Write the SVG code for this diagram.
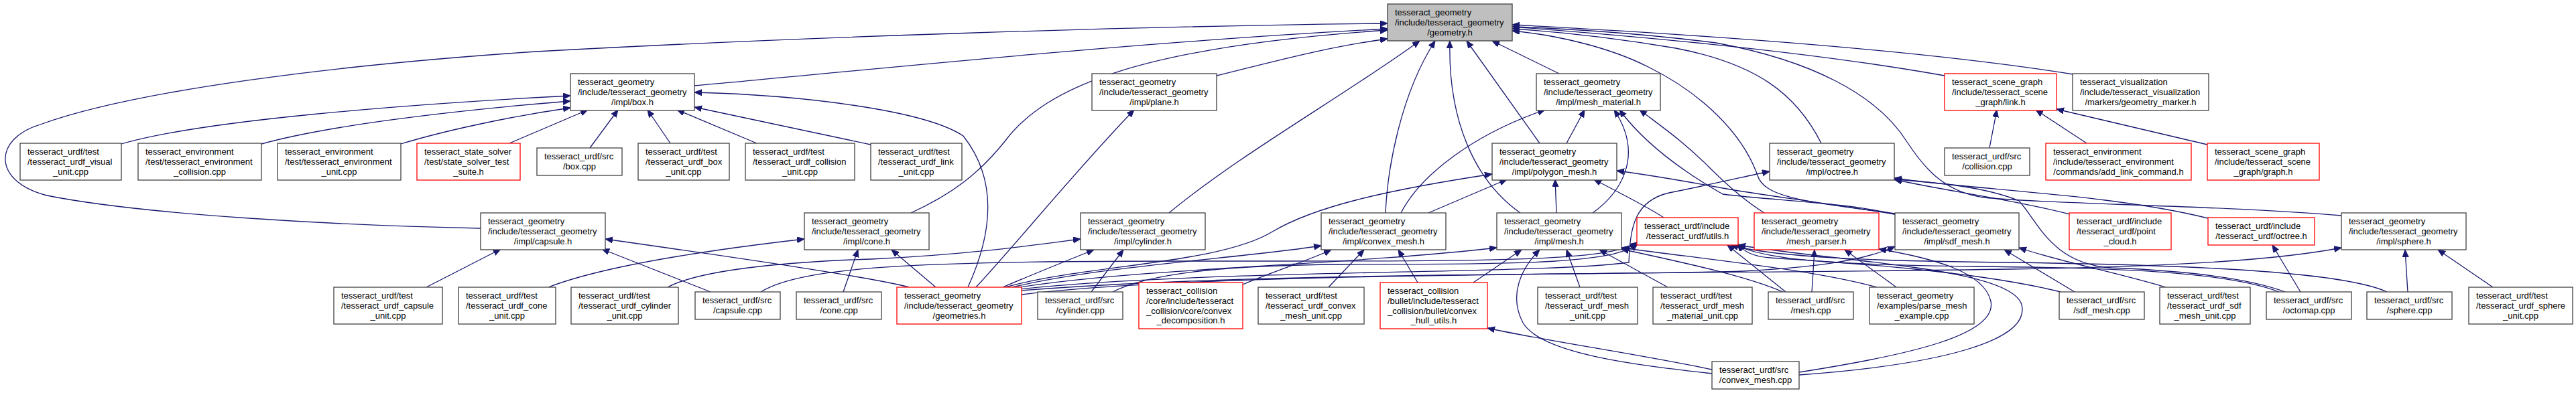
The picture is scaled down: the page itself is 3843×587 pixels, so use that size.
<svg xmlns="http://www.w3.org/2000/svg" width="3843" height="587" viewBox="0 0 3843 587">
<style>
.nd rect{fill:#ffffff;stroke:#404040;stroke-width:1.3}
.rd rect{fill:#ffffff;stroke:#ff0000;stroke-width:1.3}
.rt rect{fill:#bfbfbf;stroke:#404040;stroke-width:1.3}
text{font-family:"Liberation Sans",Arial,Helvetica,sans-serif;font-size:13px;fill:#000000}
.m{text-anchor:middle}
#edges path{fill:none;stroke:#191970;stroke-width:1.3;marker-end:url(#ah)}
</style>
<defs>
<marker id="ah" markerUnits="userSpaceOnUse" markerWidth="12" markerHeight="10" refX="11" refY="4.5" orient="auto">
<path d="M0,0 L11,4.5 L0,9 z" fill="#191970" stroke="#191970" stroke-width="1"/>
</marker>
</defs>
<rect x="0" y="0" width="3843" height="587" fill="#ffffff"/>
<g id="edges">
<path d="M717,341 C520,337 220,322 70,292 C-10,272 -12,208 60,186 C200,135 500,97 800,77 C1200,55 1700,39 2070,35"/>
<path d="M1036,128 C1300,104 1700,62 2070,43"/>
<path d="M1359,318 C1420,290 1460,260 1500,210 C1560,130 1700,70 2070,45"/>
<path d="M1815,113 C1900,92 1980,70 2070,58"/>
<path d="M1744,318 C1850,230 2010,140 2118,61"/>
<path d="M2067,318 C2070,250 2090,140 2141,61"/>
<path d="M2268,318 C2200,270 2160,180 2163,61"/>
<path d="M2297,214 L2188,61"/>
<path d="M2326,110 L2226,61"/>
<path d="M3093,111 C2900,80 2600,55 2256,37"/>
<path d="M2901,113 C2750,86 2550,62 2256,40"/>
<path d="M2717,214 C2680,140 2620,95 2500,72 C2400,55 2320,47 2256,43"/>
<path d="M2827,319 C2700,302 2632,296 2622,262 C2600,200 2540,140 2459,100 C2400,70 2320,52 2256,46"/>
<path d="M3493,322 C3300,306 3050,305 2960,295 C2900,287 2870,250 2845,212 C2800,140 2700,90 2560,64 C2450,50 2330,42 2256,40"/>
<path d="M181,215 C300,180 600,156 851,143"/>
<path d="M390,215 C480,190 650,167 851,151"/>
<path d="M598,215 C660,196 760,174 851,161"/>
<path d="M760,214 L877,164"/>
<path d="M880,221 L922,164"/>
<path d="M1000,214 L966,164"/>
<path d="M1129,214 L1010,164"/>
<path d="M1299,216 C1200,195 1100,174 1036,160"/>
<path d="M1444,429 C1480,350 1490,270 1437,203 C1380,165 1200,142 1036,138"/>
<path d="M1456,429 C1520,360 1600,260 1692,164"/>
<path d="M2090,318 C2120,260 2200,200 2305,164"/>
<path d="M2337,214 L2364,164"/>
<path d="M2376,318 C2415,290 2455,235 2408,164"/>
<path d="M2827,320 C2750,302 2650,300 2570,290 C2500,250 2450,210 2416,164"/>
<path d="M2632,318 C2600,298 2570,270 2550,250 C2510,210 2480,190 2446,164"/>
<path d="M2968,221 L2979,164"/>
<path d="M3113,214 L3037,164"/>
<path d="M3293,216 L3068,163"/>
<path d="M2131,318 L2248,268"/>
<path d="M2322,318 L2320,268"/>
<path d="M2482,325 C2460,310 2420,290 2378,268"/>
<path d="M2827,320 C2700,300 2620,290 2570,281 C2500,268 2450,260 2412,255"/>
<path d="M1500,429 C1620,395 1820,395 1900,345 C1960,310 2060,285 2226,260"/>
<path d="M1520,432 C1800,402 2300,410 2430,392 C2432,340 2438,300 2490,288 C2560,274 2610,262 2640,256"/>
<path d="M3294,326 C3150,290 2950,284 2826,266"/>
<path d="M3088,320 C3000,297 2900,285 2826,268"/>
<path d="M3409,436 C3350,414 3250,404 3150,400 C3060,394 3040,330 3012,300 C2960,278 2880,272 2826,268"/>
<path d="M636,429 L747,372"/>
<path d="M1060,436 L898,372"/>
<path d="M1356,429 C1300,414 1100,385 903,357"/>
<path d="M818,429 C880,405 1000,380 1200,357"/>
<path d="M1258,436 L1280,373"/>
<path d="M1396,429 L1330,373"/>
<path d="M996,429 C1050,400 1200,390 1300,387 C1450,380 1550,365 1612,357"/>
<path d="M1628,436 L1676,373"/>
<path d="M1496,429 C1540,410 1600,386 1632,373"/>
<path d="M1510,429 C1650,396 1850,386 1971,367"/>
<path d="M1854,425 C1900,405 1950,390 1986,373"/>
<path d="M1982,429 L2035,373"/>
<path d="M2115,422 L2086,373"/>
<path d="M2554,552 C2450,530 2300,508 2219,490"/>
<path d="M1515,430 C1700,400 2000,397 2233,370"/>
<path d="M2198,422 L2270,373"/>
<path d="M2554,558 C2450,546 2300,530 2272,482 C2250,440 2270,400 2297,373"/>
<path d="M2357,429 L2337,373"/>
<path d="M2488,429 L2386,373"/>
<path d="M2660,436 C2600,410 2500,390 2419,372"/>
<path d="M2664,436 L2577,366"/>
<path d="M2703,436 L2707,373"/>
<path d="M2829,429 L2752,373"/>
<path d="M2800,429 C2700,402 2550,388 2419,370"/>
<path d="M3095,436 L2990,373"/>
<path d="M3074,436 C2950,405 2750,392 2640,385 C2615,383 2600,375 2593,364"/>
<path d="M3231,429 C3150,405 3070,390 3012,370"/>
<path d="M3432,436 L3390,366"/>
<path d="M3400,436 C3320,405 3150,400 2950,398 C2780,396 2640,392 2590,366"/>
<path d="M3592,436 L3588,373"/>
<path d="M3719,429 L3637,373"/>
<path d="M3561,436 C3500,408 3300,396 3000,392 C2800,390 2650,385 2582,366"/>
<path d="M1524,440 C1800,405 2500,410 3000,402 C3250,398 3400,388 3493,370"/>
<path d="M1522,434 C1900,405 2400,412 2600,405 C2700,400 2780,390 2827,368"/>
<path d="M2684,556 C2850,530 2980,500 2970,450 C2960,405 2880,385 2803,372"/>
<path d="M2684,560 C2890,545 3030,510 3016,455 C3000,400 2750,392 2593,366"/>
<path d="M1135,436 C1200,395 1400,390 1800,390 C2200,390 2400,392 2442,362"/>
<path d="M1660,436 C1720,405 1850,396 2000,395 C2250,394 2405,396 2443,364"/>
</g>
<g id="n-geometry" class="rt"><rect x="2070" y="6" width="186" height="55"/><text x="2081" y="23.2">tesseract_geometry</text><text x="2081" y="37.9">/include/tesseract_geometry</text><text class="m" x="2163" y="52.6">/geometry.h</text></g>
<g id="n-box-h" class="nd"><rect x="851" y="110" width="185" height="55"/><text x="862" y="127.2">tesseract_geometry</text><text x="862" y="141.9">/include/tesseract_geometry</text><text class="m" x="943.5" y="156.6">/impl/box.h</text></g>
<g id="n-plane-h" class="nd"><rect x="1629" y="110" width="186" height="55"/><text x="1640" y="127.2">tesseract_geometry</text><text x="1640" y="141.9">/include/tesseract_geometry</text><text class="m" x="1722" y="156.6">/impl/plane.h</text></g>
<g id="n-mesh-material-h" class="nd"><rect x="2292" y="110" width="185" height="55"/><text x="2303" y="127.2">tesseract_geometry</text><text x="2303" y="141.9">/include/tesseract_geometry</text><text class="m" x="2384.5" y="156.6">/impl/mesh_material.h</text></g>
<g id="n-link-h" class="rd"><rect x="2901" y="110" width="167" height="55"/><text x="2912" y="127.2">tesseract_scene_graph</text><text x="2912" y="141.9">/include/tesseract_scene</text><text class="m" x="2984.5" y="156.6">_graph/link.h</text></g>
<g id="n-geometry-marker" class="nd"><rect x="3092" y="110" width="203" height="55"/><text x="3103" y="127.2">tesseract_visualization</text><text x="3103" y="141.9">/include/tesseract_visualization</text><text class="m" x="3193.5" y="156.6">/markers/geometry_marker.h</text></g>
<g id="n-visual-unit" class="nd"><rect x="30" y="214" width="151" height="55"/><text x="41" y="231.2">tesseract_urdf/test</text><text x="41" y="245.9">/tesseract_urdf_visual</text><text class="m" x="105.5" y="260.6">_unit.cpp</text></g>
<g id="n-env-collision" class="nd"><rect x="206" y="214" width="184" height="55"/><text x="217" y="231.2">tesseract_environment</text><text x="217" y="245.9">/test/tesseract_environment</text><text class="m" x="298" y="260.6">_collision.cpp</text></g>
<g id="n-env-unit" class="nd"><rect x="414" y="214" width="184" height="55"/><text x="425" y="231.2">tesseract_environment</text><text x="425" y="245.9">/test/tesseract_environment</text><text class="m" x="506" y="260.6">_unit.cpp</text></g>
<g id="n-state-solver" class="rd"><rect x="622" y="214" width="154" height="55"/><text x="633" y="231.2">tesseract_state_solver</text><text x="633" y="245.9">/test/state_solver_test</text><text class="m" x="699" y="260.6">_suite.h</text></g>
<g id="n-box-cpp" class="nd"><rect x="801" y="221" width="127" height="41"/><text x="812" y="238.2">tesseract_urdf/src</text><text class="m" x="864.5" y="252.9">/box.cpp</text></g>
<g id="n-urdf-box-unit" class="nd"><rect x="952" y="214" width="136" height="55"/><text x="963" y="231.2">tesseract_urdf/test</text><text x="963" y="245.9">/tesseract_urdf_box</text><text class="m" x="1020" y="260.6">_unit.cpp</text></g>
<g id="n-urdf-collision-unit" class="nd"><rect x="1112" y="214" width="163" height="55"/><text x="1123" y="231.2">tesseract_urdf/test</text><text x="1123" y="245.9">/tesseract_urdf_collision</text><text class="m" x="1193.5" y="260.6">_unit.cpp</text></g>
<g id="n-urdf-link-unit" class="nd"><rect x="1299" y="214" width="136" height="55"/><text x="1310" y="231.2">tesseract_urdf/test</text><text x="1310" y="245.9">/tesseract_urdf_link</text><text class="m" x="1367" y="260.6">_unit.cpp</text></g>
<g id="n-polygon-mesh-h" class="nd"><rect x="2226" y="214" width="186" height="55"/><text x="2237" y="231.2">tesseract_geometry</text><text x="2237" y="245.9">/include/tesseract_geometry</text><text class="m" x="2319" y="260.6">/impl/polygon_mesh.h</text></g>
<g id="n-octree-h" class="nd"><rect x="2640" y="214" width="186" height="55"/><text x="2651" y="231.2">tesseract_geometry</text><text x="2651" y="245.9">/include/tesseract_geometry</text><text class="m" x="2733" y="260.6">/impl/octree.h</text></g>
<g id="n-collision-cpp" class="nd"><rect x="2901" y="221" width="127" height="41"/><text x="2912" y="238.2">tesseract_urdf/src</text><text class="m" x="2964.5" y="252.9">/collision.cpp</text></g>
<g id="n-add-link-command" class="rd"><rect x="3052" y="214" width="217" height="55"/><text x="3063" y="231.2">tesseract_environment</text><text x="3063" y="245.9">/include/tesseract_environment</text><text class="m" x="3160.5" y="260.6">/commands/add_link_command.h</text></g>
<g id="n-graph-h" class="rd"><rect x="3293" y="214" width="167" height="55"/><text x="3304" y="231.2">tesseract_scene_graph</text><text x="3304" y="245.9">/include/tesseract_scene</text><text class="m" x="3376.5" y="260.6">_graph/graph.h</text></g>
<g id="n-capsule-h" class="nd"><rect x="717" y="318" width="186" height="55"/><text x="728" y="335.2">tesseract_geometry</text><text x="728" y="349.9">/include/tesseract_geometry</text><text class="m" x="810" y="364.6">/impl/capsule.h</text></g>
<g id="n-cone-h" class="nd"><rect x="1200" y="318" width="186" height="55"/><text x="1211" y="335.2">tesseract_geometry</text><text x="1211" y="349.9">/include/tesseract_geometry</text><text class="m" x="1293" y="364.6">/impl/cone.h</text></g>
<g id="n-cylinder-h" class="nd"><rect x="1612" y="318" width="186" height="55"/><text x="1623" y="335.2">tesseract_geometry</text><text x="1623" y="349.9">/include/tesseract_geometry</text><text class="m" x="1705" y="364.6">/impl/cylinder.h</text></g>
<g id="n-convex-mesh-h" class="nd"><rect x="1971" y="318" width="186" height="55"/><text x="1982" y="335.2">tesseract_geometry</text><text x="1982" y="349.9">/include/tesseract_geometry</text><text class="m" x="2064" y="364.6">/impl/convex_mesh.h</text></g>
<g id="n-mesh-h" class="nd"><rect x="2233" y="318" width="186" height="55"/><text x="2244" y="335.2">tesseract_geometry</text><text x="2244" y="349.9">/include/tesseract_geometry</text><text class="m" x="2326" y="364.6">/impl/mesh.h</text></g>
<g id="n-urdf-utils-h" class="rd"><rect x="2442" y="325" width="151" height="41"/><text x="2453" y="342.2">tesseract_urdf/include</text><text class="m" x="2517.5" y="356.9">/tesseract_urdf/utils.h</text></g>
<g id="n-mesh-parser-h" class="rd"><rect x="2617" y="318" width="186" height="55"/><text x="2628" y="335.2">tesseract_geometry</text><text x="2628" y="349.9">/include/tesseract_geometry</text><text class="m" x="2710" y="364.6">/mesh_parser.h</text></g>
<g id="n-sdf-mesh-h" class="nd"><rect x="2827" y="318" width="185" height="55"/><text x="2838" y="335.2">tesseract_geometry</text><text x="2838" y="349.9">/include/tesseract_geometry</text><text class="m" x="2919.5" y="364.6">/impl/sdf_mesh.h</text></g>
<g id="n-point-cloud-h" class="rd"><rect x="3087" y="318" width="152" height="55"/><text x="3098" y="335.2">tesseract_urdf/include</text><text x="3098" y="349.9">/tesseract_urdf/point</text><text class="m" x="3163" y="364.6">_cloud.h</text></g>
<g id="n-urdf-octree-h" class="rd"><rect x="3294" y="325" width="159" height="41"/><text x="3305" y="342.2">tesseract_urdf/include</text><text class="m" x="3373.5" y="356.9">/tesseract_urdf/octree.h</text></g>
<g id="n-sphere-h" class="nd"><rect x="3493" y="318" width="186" height="55"/><text x="3504" y="335.2">tesseract_geometry</text><text x="3504" y="349.9">/include/tesseract_geometry</text><text class="m" x="3586" y="364.6">/impl/sphere.h</text></g>
<g id="n-capsule-unit" class="nd"><rect x="498" y="429" width="162" height="55"/><text x="509" y="446.2">tesseract_urdf/test</text><text x="509" y="460.9">/tesseract_urdf_capsule</text><text class="m" x="579" y="475.6">_unit.cpp</text></g>
<g id="n-cone-unit" class="nd"><rect x="684" y="429" width="145" height="55"/><text x="695" y="446.2">tesseract_urdf/test</text><text x="695" y="460.9">/tesseract_urdf_cone</text><text class="m" x="756.5" y="475.6">_unit.cpp</text></g>
<g id="n-cylinder-unit" class="nd"><rect x="852" y="429" width="160" height="55"/><text x="863" y="446.2">tesseract_urdf/test</text><text x="863" y="460.9">/tesseract_urdf_cylinder</text><text class="m" x="932" y="475.6">_unit.cpp</text></g>
<g id="n-capsule-cpp" class="nd"><rect x="1037" y="436" width="127" height="41"/><text x="1048" y="453.2">tesseract_urdf/src</text><text class="m" x="1100.5" y="467.9">/capsule.cpp</text></g>
<g id="n-cone-cpp" class="nd"><rect x="1188" y="436" width="127" height="41"/><text x="1199" y="453.2">tesseract_urdf/src</text><text class="m" x="1251.5" y="467.9">/cone.cpp</text></g>
<g id="n-geometries-h" class="rd"><rect x="1338" y="429" width="186" height="55"/><text x="1349" y="446.2">tesseract_geometry</text><text x="1349" y="460.9">/include/tesseract_geometry</text><text class="m" x="1431" y="475.6">/geometries.h</text></g>
<g id="n-cylinder-cpp" class="nd"><rect x="1548" y="436" width="127" height="41"/><text x="1559" y="453.2">tesseract_urdf/src</text><text class="m" x="1611.5" y="467.9">/cylinder.cpp</text></g>
<g id="n-convex-decomposition-h" class="rd"><rect x="1699" y="422" width="155" height="69"/><text x="1710" y="439.2">tesseract_collision</text><text x="1710" y="453.9">/core/include/tesseract</text><text x="1710" y="468.6">_collision/core/convex</text><text class="m" x="1776.5" y="483.3">_decomposition.h</text></g>
<g id="n-convex-mesh-unit" class="nd"><rect x="1877" y="429" width="158" height="55"/><text x="1888" y="446.2">tesseract_urdf/test</text><text x="1888" y="460.9">/tesseract_urdf_convex</text><text class="m" x="1956" y="475.6">_mesh_unit.cpp</text></g>
<g id="n-convex-hull-utils-h" class="rd"><rect x="2059" y="422" width="160" height="69"/><text x="2070" y="439.2">tesseract_collision</text><text x="2070" y="453.9">/bullet/include/tesseract</text><text x="2070" y="468.6">_collision/bullet/convex</text><text class="m" x="2139" y="483.3">_hull_utils.h</text></g>
<g id="n-mesh-unit" class="nd"><rect x="2294" y="429" width="149" height="55"/><text x="2305" y="446.2">tesseract_urdf/test</text><text x="2305" y="460.9">/tesseract_urdf_mesh</text><text class="m" x="2368.5" y="475.6">_unit.cpp</text></g>
<g id="n-mesh-material-unit" class="nd"><rect x="2466" y="429" width="148" height="55"/><text x="2477" y="446.2">tesseract_urdf/test</text><text x="2477" y="460.9">/tesseract_urdf_mesh</text><text class="m" x="2540" y="475.6">_material_unit.cpp</text></g>
<g id="n-mesh-cpp" class="nd"><rect x="2638" y="436" width="127" height="41"/><text x="2649" y="453.2">tesseract_urdf/src</text><text class="m" x="2701.5" y="467.9">/mesh.cpp</text></g>
<g id="n-parse-mesh-example" class="nd"><rect x="2789" y="429" width="156" height="55"/><text x="2800" y="446.2">tesseract_geometry</text><text x="2800" y="460.9">/examples/parse_mesh</text><text class="m" x="2867" y="475.6">_example.cpp</text></g>
<g id="n-sdf-mesh-cpp" class="nd"><rect x="3072" y="436" width="127" height="41"/><text x="3083" y="453.2">tesseract_urdf/src</text><text class="m" x="3135.5" y="467.9">/sdf_mesh.cpp</text></g>
<g id="n-sdf-mesh-unit" class="nd"><rect x="3222" y="429" width="135" height="55"/><text x="3233" y="446.2">tesseract_urdf/test</text><text x="3233" y="460.9">/tesseract_urdf_sdf</text><text class="m" x="3289.5" y="475.6">_mesh_unit.cpp</text></g>
<g id="n-octomap-cpp" class="nd"><rect x="3381" y="436" width="127" height="41"/><text x="3392" y="453.2">tesseract_urdf/src</text><text class="m" x="3444.5" y="467.9">/octomap.cpp</text></g>
<g id="n-sphere-cpp" class="nd"><rect x="3531" y="436" width="127" height="41"/><text x="3542" y="453.2">tesseract_urdf/src</text><text class="m" x="3594.5" y="467.9">/sphere.cpp</text></g>
<g id="n-sphere-unit" class="nd"><rect x="3683" y="429" width="155" height="55"/><text x="3694" y="446.2">tesseract_urdf/test</text><text x="3694" y="460.9">/tesseract_urdf_sphere</text><text class="m" x="3760.5" y="475.6">_unit.cpp</text></g>
<g id="n-convex-mesh-cpp" class="nd"><rect x="2554" y="540" width="130" height="41"/><text x="2565" y="557.2">tesseract_urdf/src</text><text class="m" x="2619" y="571.9">/convex_mesh.cpp</text></g>
</svg>
